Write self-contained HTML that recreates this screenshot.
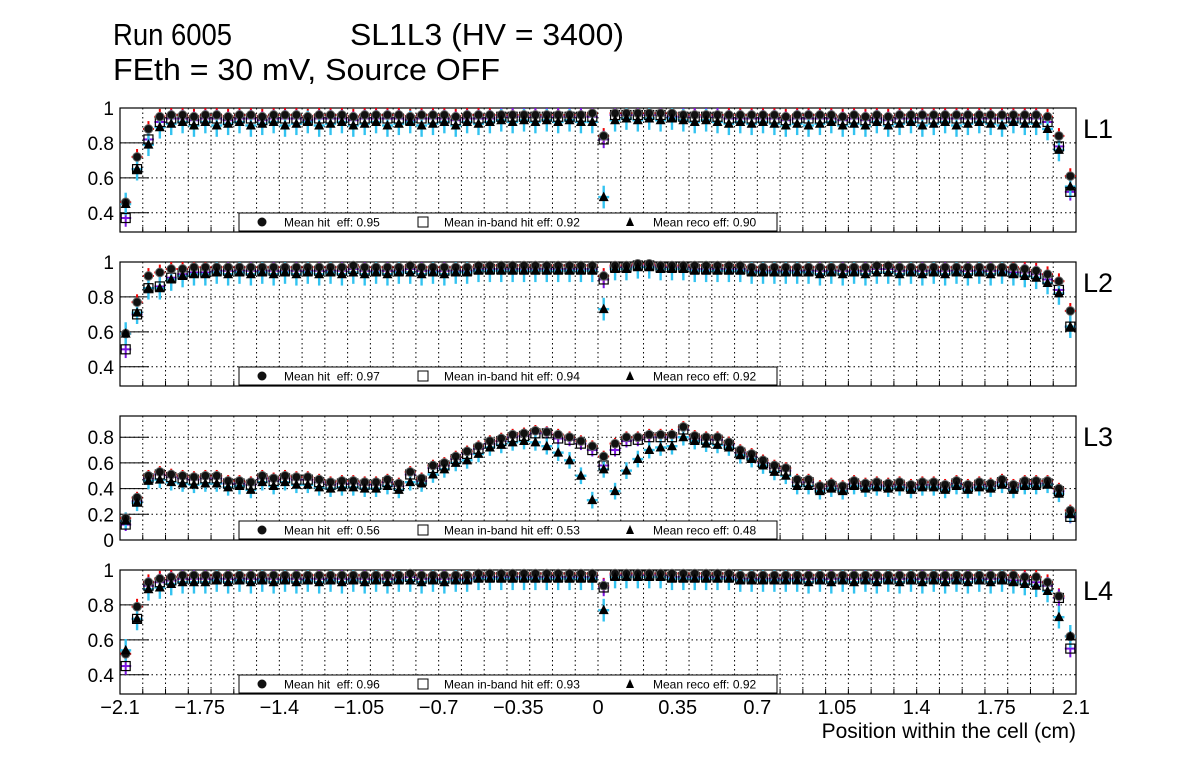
<!DOCTYPE html>
<html><head><meta charset="utf-8"><style>
html,body{margin:0;padding:0;background:#fff;}
svg{display:block;font-family:"Liberation Sans",sans-serif;}
</style></head><body>
<svg id="c" width="1196" height="772" viewBox="0 0 1196 772" xmlns="http://www.w3.org/2000/svg">
<rect width="1196" height="772" fill="#fff"/>
<text x="113" y="45" font-size="31" textLength="119" lengthAdjust="spacingAndGlyphs">Run 6005</text>
<text x="350" y="45" font-size="31" textLength="274" lengthAdjust="spacingAndGlyphs">SL1L3 (HV = 3400)</text>
<text x="113" y="80" font-size="31" textLength="387" lengthAdjust="spacingAndGlyphs">FEth = 30 mV, Source OFF</text>
<text x="1076" y="738" font-size="21" text-anchor="end">Position within the cell (cm)</text>
<g id="panels"></g>
</svg>
<script>
const xTickLabels=["\u22122.1","\u22121.75","\u22121.4","\u22121.05","\u22120.7","\u22120.35","0","0.35","0.7","1.05","1.4","1.75","2.1"];
const xTickValues=[-2.1,-1.75,-1.4,-1.05,-0.7,-0.35,0,0.35,0.7,1.05,1.4,1.75,2.1];
const binWidth=0.05, xMin=-2.1, xMax=2.1;
const layerNames=["L1","L2","L3","L4"];
const meanHit=["0.95","0.97","0.56","0.96"];
const meanInband=["0.92","0.94","0.53","0.93"];
const meanReco=["0.90","0.92","0.48","0.92"];
const hitL1=[0.46,0.72,0.88,0.95,0.96,0.96,0.95,0.96,0.96,0.95,
0.96,0.96,0.95,0.96,0.96,0.96,0.95,0.96,0.96,0.96,
0.95,0.96,0.96,0.96,0.96,0.95,0.96,0.96,0.96,0.95,
0.96,0.96,0.96,0.96,0.96,0.96,0.96,0.96,0.96,0.96,
0.96,0.97,0.84,0.97,0.97,0.97,0.97,0.97,0.97,0.96,
0.96,0.96,0.96,0.96,0.96,0.96,0.96,0.96,0.95,0.96,
0.96,0.96,0.96,0.95,0.96,0.95,0.96,0.95,0.96,0.96,
0.96,0.96,0.96,0.96,0.96,0.96,0.96,0.96,0.96,0.96,
0.96,0.95,0.84,0.61];
const inbL1=[0.37,0.65,0.82,0.92,0.94,0.94,0.93,0.94,0.94,0.93,
0.94,0.94,0.93,0.94,0.94,0.94,0.93,0.94,0.94,0.94,
0.93,0.94,0.94,0.94,0.94,0.93,0.94,0.94,0.94,0.93,
0.94,0.94,0.94,0.95,0.95,0.95,0.95,0.95,0.95,0.95,
0.95,0.95,0.82,0.96,0.96,0.96,0.96,0.96,0.95,0.95,
0.95,0.95,0.95,0.94,0.94,0.94,0.94,0.94,0.93,0.94,
0.94,0.94,0.94,0.93,0.94,0.93,0.94,0.93,0.94,0.94,
0.94,0.94,0.94,0.94,0.94,0.94,0.94,0.94,0.94,0.94,
0.94,0.92,0.78,0.52];
const recoL1=[0.45,0.65,0.79,0.89,0.91,0.92,0.90,0.92,0.90,0.91,
0.92,0.90,0.91,0.92,0.90,0.91,0.92,0.90,0.91,0.92,
0.90,0.91,0.92,0.90,0.91,0.92,0.90,0.91,0.92,0.90,
0.92,0.91,0.92,0.93,0.92,0.93,0.92,0.93,0.92,0.93,
0.92,0.92,0.49,0.93,0.94,0.93,0.94,0.93,0.94,0.93,
0.92,0.93,0.92,0.91,0.92,0.91,0.92,0.91,0.90,0.91,
0.90,0.91,0.92,0.90,0.91,0.90,0.92,0.90,0.91,0.92,
0.90,0.91,0.92,0.90,0.91,0.92,0.91,0.90,0.92,0.91,
0.91,0.88,0.76,0.55];
const hitL2=[0.59,0.77,0.92,0.94,0.96,0.96,0.97,0.97,0.97,0.97,
0.97,0.97,0.97,0.97,0.97,0.97,0.97,0.97,0.97,0.97,
0.98,0.97,0.97,0.97,0.97,0.98,0.97,0.97,0.97,0.97,
0.97,0.98,0.98,0.98,0.98,0.98,0.98,0.98,0.98,0.98,
0.98,0.98,0.92,0.98,0.98,0.99,0.99,0.98,0.98,0.98,
0.98,0.98,0.98,0.98,0.98,0.97,0.97,0.97,0.97,0.97,
0.97,0.97,0.97,0.97,0.97,0.97,0.98,0.98,0.97,0.97,
0.97,0.97,0.97,0.97,0.97,0.97,0.97,0.97,0.97,0.96,
0.95,0.93,0.89,0.72];
const inbL2=[0.50,0.70,0.85,0.86,0.91,0.93,0.94,0.94,0.95,0.95,
0.95,0.95,0.95,0.95,0.95,0.95,0.95,0.95,0.95,0.95,
0.96,0.95,0.95,0.95,0.95,0.96,0.95,0.95,0.95,0.95,
0.95,0.96,0.96,0.96,0.96,0.96,0.96,0.96,0.96,0.96,
0.96,0.96,0.90,0.97,0.97,0.98,0.98,0.97,0.97,0.97,
0.96,0.96,0.96,0.96,0.96,0.95,0.95,0.95,0.95,0.95,
0.95,0.95,0.95,0.95,0.95,0.95,0.96,0.96,0.95,0.95,
0.95,0.95,0.95,0.95,0.95,0.95,0.95,0.95,0.94,0.94,
0.93,0.90,0.84,0.63];
const recoL2=[0.59,0.71,0.85,0.85,0.90,0.92,0.93,0.93,0.94,0.93,
0.94,0.93,0.94,0.93,0.94,0.93,0.94,0.93,0.94,0.93,
0.94,0.93,0.94,0.93,0.94,0.94,0.93,0.94,0.93,0.94,
0.94,0.95,0.95,0.95,0.95,0.95,0.95,0.95,0.95,0.95,
0.95,0.95,0.73,0.96,0.96,0.97,0.97,0.96,0.96,0.96,
0.95,0.95,0.95,0.95,0.95,0.94,0.94,0.94,0.94,0.94,
0.94,0.93,0.94,0.93,0.94,0.93,0.94,0.94,0.93,0.94,
0.93,0.94,0.93,0.94,0.93,0.94,0.93,0.94,0.93,0.92,
0.91,0.88,0.82,0.63];
const hitL3=[0.17,0.33,0.50,0.53,0.51,0.50,0.49,0.50,0.50,0.46,
0.46,0.45,0.50,0.48,0.50,0.49,0.49,0.47,0.45,0.46,
0.46,0.45,0.45,0.47,0.44,0.53,0.48,0.58,0.60,0.65,
0.69,0.73,0.77,0.79,0.82,0.83,0.85,0.84,0.82,0.80,
0.77,0.73,0.65,0.75,0.80,0.80,0.82,0.82,0.82,0.88,
0.81,0.80,0.80,0.76,0.70,0.67,0.62,0.58,0.56,0.47,
0.47,0.42,0.44,0.42,0.46,0.44,0.45,0.44,0.45,0.43,
0.45,0.45,0.43,0.46,0.43,0.45,0.44,0.47,0.43,0.46,
0.46,0.46,0.40,0.23];
const inbL3=[0.12,0.30,0.48,0.51,0.49,0.48,0.47,0.48,0.48,0.44,
0.44,0.43,0.48,0.46,0.48,0.47,0.47,0.45,0.43,0.44,
0.44,0.43,0.43,0.45,0.42,0.51,0.46,0.56,0.58,0.63,
0.67,0.71,0.75,0.77,0.80,0.81,0.83,0.83,0.79,0.78,
0.75,0.70,0.58,0.70,0.77,0.78,0.80,0.80,0.80,0.86,
0.79,0.78,0.78,0.74,0.68,0.65,0.60,0.56,0.54,0.45,
0.45,0.40,0.42,0.40,0.44,0.42,0.43,0.42,0.43,0.41,
0.43,0.43,0.41,0.44,0.41,0.43,0.42,0.45,0.41,0.44,
0.44,0.44,0.38,0.18];
const recoL3=[0.15,0.29,0.46,0.47,0.45,0.44,0.43,0.44,0.44,0.41,
0.42,0.39,0.45,0.42,0.45,0.43,0.43,0.41,0.40,0.41,
0.41,0.40,0.40,0.42,0.39,0.45,0.44,0.51,0.55,0.60,
0.62,0.67,0.72,0.74,0.76,0.77,0.76,0.73,0.68,0.62,
0.50,0.31,0.55,0.38,0.54,0.63,0.70,0.72,0.73,0.80,
0.77,0.75,0.74,0.72,0.66,0.63,0.58,0.53,0.50,0.42,
0.42,0.38,0.40,0.38,0.42,0.40,0.41,0.40,0.41,0.39,
0.41,0.41,0.39,0.42,0.39,0.41,0.40,0.43,0.39,0.42,
0.42,0.43,0.36,0.20];
const hitL4=[0.52,0.79,0.93,0.95,0.96,0.97,0.97,0.97,0.97,0.97,
0.97,0.97,0.97,0.97,0.97,0.97,0.97,0.97,0.97,0.97,
0.97,0.97,0.97,0.97,0.97,0.98,0.97,0.97,0.97,0.97,
0.97,0.98,0.98,0.98,0.98,0.98,0.98,0.98,0.98,0.98,
0.98,0.98,0.91,0.98,0.98,0.98,0.98,0.98,0.98,0.98,
0.98,0.98,0.98,0.98,0.97,0.97,0.97,0.97,0.97,0.97,
0.97,0.97,0.97,0.97,0.97,0.97,0.97,0.97,0.97,0.97,
0.97,0.97,0.97,0.97,0.97,0.97,0.97,0.97,0.97,0.96,
0.96,0.93,0.85,0.62];
const inbL4=[0.45,0.72,0.91,0.93,0.94,0.95,0.95,0.95,0.95,0.95,
0.95,0.95,0.95,0.95,0.95,0.95,0.95,0.95,0.95,0.95,
0.95,0.95,0.95,0.95,0.95,0.96,0.95,0.95,0.95,0.95,
0.95,0.96,0.96,0.96,0.96,0.96,0.96,0.96,0.96,0.96,
0.96,0.96,0.90,0.97,0.97,0.97,0.97,0.97,0.96,0.96,
0.96,0.96,0.96,0.96,0.95,0.95,0.95,0.95,0.95,0.95,
0.95,0.95,0.95,0.95,0.95,0.95,0.95,0.95,0.95,0.95,
0.95,0.95,0.95,0.95,0.95,0.95,0.95,0.95,0.94,0.94,
0.93,0.91,0.84,0.55];
const recoL4=[0.54,0.72,0.89,0.90,0.92,0.93,0.93,0.93,0.94,0.93,
0.94,0.93,0.94,0.93,0.94,0.93,0.94,0.93,0.94,0.93,
0.94,0.93,0.94,0.93,0.94,0.94,0.93,0.94,0.93,0.94,
0.94,0.95,0.95,0.95,0.95,0.95,0.95,0.95,0.95,0.95,
0.95,0.95,0.77,0.96,0.96,0.96,0.96,0.96,0.95,0.95,
0.95,0.95,0.95,0.95,0.94,0.94,0.94,0.94,0.94,0.94,
0.93,0.94,0.93,0.94,0.93,0.94,0.93,0.94,0.93,0.94,
0.93,0.94,0.93,0.94,0.93,0.94,0.93,0.94,0.93,0.92,
0.91,0.88,0.73,0.62];
const hitSeries=[hitL1,hitL2,hitL3,hitL4];
const inbSeries=[inbL1,inbL2,inbL3,inbL4];
const recoSeries=[recoL1,recoL2,recoL3,recoL4];
const yTickLabelsA=["0.4","0.6","0.8","1"];
const yTickValuesA=[0.4,0.6,0.8,1];
const yTickLabelsB=["0","0.2","0.4","0.6","0.8"];
const yTickValuesB=[0,0.2,0.4,0.6,0.8];

const NS="http://www.w3.org/2000/svg";
const root=document.getElementById('panels');
const L=120,R=1076;
function xs(v){return L+(v-xMin)/(xMax-xMin)*(R-L);}
function mk(tag,attrs,parent){const e=document.createElementNS(NS,tag);for(const k in attrs)e.setAttribute(k,attrs[k]);(parent||root).appendChild(e);return e;}
const panelTops=[108,262,416,570], panelH=124;
const yRanges=[[0.29,1.0],[0.29,1.0],[0,0.965],[0.29,1.0]];

for(let p=0;p<4;p++){
  const top=panelTops[p], bot=top+panelH;
  const [y0,y1]=yRanges[p];
  const ys=v=>bot-(v-y0)/(y1-y0)*panelH;
  const g=mk('g',{});
  
  
  for(let k=1;k<42;k++){
    const xv=xMin+0.1*k;
    const gl=mk('line',{x1:xs(xv),x2:xs(xv),y1:top,y2:bot,stroke:'#000','stroke-width':1,'stroke-dasharray':'1.5,3'},g);
    
    
    const tk=mk('line',{x1:xs(xv),x2:xs(xv),y1:bot,y2:bot-5,stroke:'#000','stroke-width':1},g);
    
    
  }
  const tv=p===2?yTickValuesB:yTickValuesA, tl=p===2?yTickLabelsB:yTickLabelsA;
  tv.forEach((v,i)=>{
    const y=ys(v);
    if(v<y1-0.01&&v>y0+0.01){
      const gl=mk('line',{x1:L,x2:R,y1:y,y2:y,stroke:'#000','stroke-width':1,'stroke-dasharray':'1.5,3'},g);
      
      
    }
    const tk=mk('line',{x1:L,x2:L+29,y1:y,y2:y,stroke:'#000','stroke-width':1},g);
    
    
    const t=mk('text',{x:114,y:y+7,'font-size':19,'text-anchor':'end'},g);
    t.textContent=tl[i];
    
    
  });
  const fr=mk('rect',{x:L,y:top,width:R-L,height:panelH,fill:'none',stroke:'#000','stroke-width':1.2},g);
  
  
  const lab=mk('text',{x:1083,y:top+30,'font-size':27},g);
  lab.textContent=layerNames[p];
  
  

  const hit=hitSeries[p], inb=inbSeries[p], reco=recoSeries[p];
  const cx=i=>xs(xMin+binWidth*(i+0.5));
  function errbar(i,v,e,col,w){
    const x=cx(i);
    mk('line',{x1:x,x2:x,y1:ys(Math.min(v+e,y1)),y2:ys(Math.max(v-e,y0)),stroke:col,'stroke-width':w},g);
    mk('line',{x1:x-5.5,x2:x+5.5,y1:ys(v),y2:ys(v),stroke:col,'stroke-width':w},g);
  }
  hit.forEach((v,i)=>errbar(i,v,0.045,'#ee0000',2));
  inb.forEach((v,i)=>errbar(i,v,0.05,'#7a14e0',2));
  reco.forEach((v,i)=>errbar(i,v,0.065,'#33c3f0',2.4));
  inb.forEach((v,i)=>{
    const s=mk('rect',{x:cx(i)-4.5,y:ys(v)-4.5,width:9,height:9,fill:'none',stroke:'#000','stroke-width':1.2},g);
    
    
  });
  hit.forEach((v,i)=>{
    const c=mk('circle',{cx:cx(i),cy:ys(v),r:4.3,fill:'#111',stroke:'#666','stroke-width':1},g);
    
    
  });
  reco.forEach((v,i)=>{
    const x=cx(i),y=ys(v);
    const t=mk('polygon',{points:`${x},${y-5.5} ${x-5},${y+4} ${x+5},${y+4}`,fill:'#000'},g);
    
    
  });
  const ly=bot-19;
  const lg=mk('g',{},g);
  
  
  mk('rect',{x:239,y:ly,width:538,height:18,fill:'#fff',stroke:'#000','stroke-width':1},lg);
  mk('circle',{cx:262,cy:ly+9,r:4.5,fill:'#111'},lg);
  const t1=mk('text',{x:284,y:ly+13.5,'font-size':12},lg);t1.textContent='Mean hit  eff: '+meanHit[p];
  t1.style.whiteSpace='pre';
  mk('rect',{x:418,y:ly+4,width:10,height:10,fill:'none',stroke:'#000','stroke-width':1},lg);
  const t2=mk('text',{x:444,y:ly+13.5,'font-size':12},lg);t2.textContent='Mean in-band hit eff: '+meanInband[p];
  mk('polygon',{points:`630,${ly+4} 626,${ly+13} 634,${ly+13}`,fill:'#000'},lg);
  const t3=mk('text',{x:653,y:ly+13.5,'font-size':12},lg);t3.textContent='Mean reco eff: '+meanReco[p];
}
xTickValues.forEach((v,i)=>{
  const t=mk('text',{x:xs(v),y:714,'font-size':20,'text-anchor':'middle'});
  t.textContent=xTickLabels[i];
  
  
});
</script>
</body></html>
